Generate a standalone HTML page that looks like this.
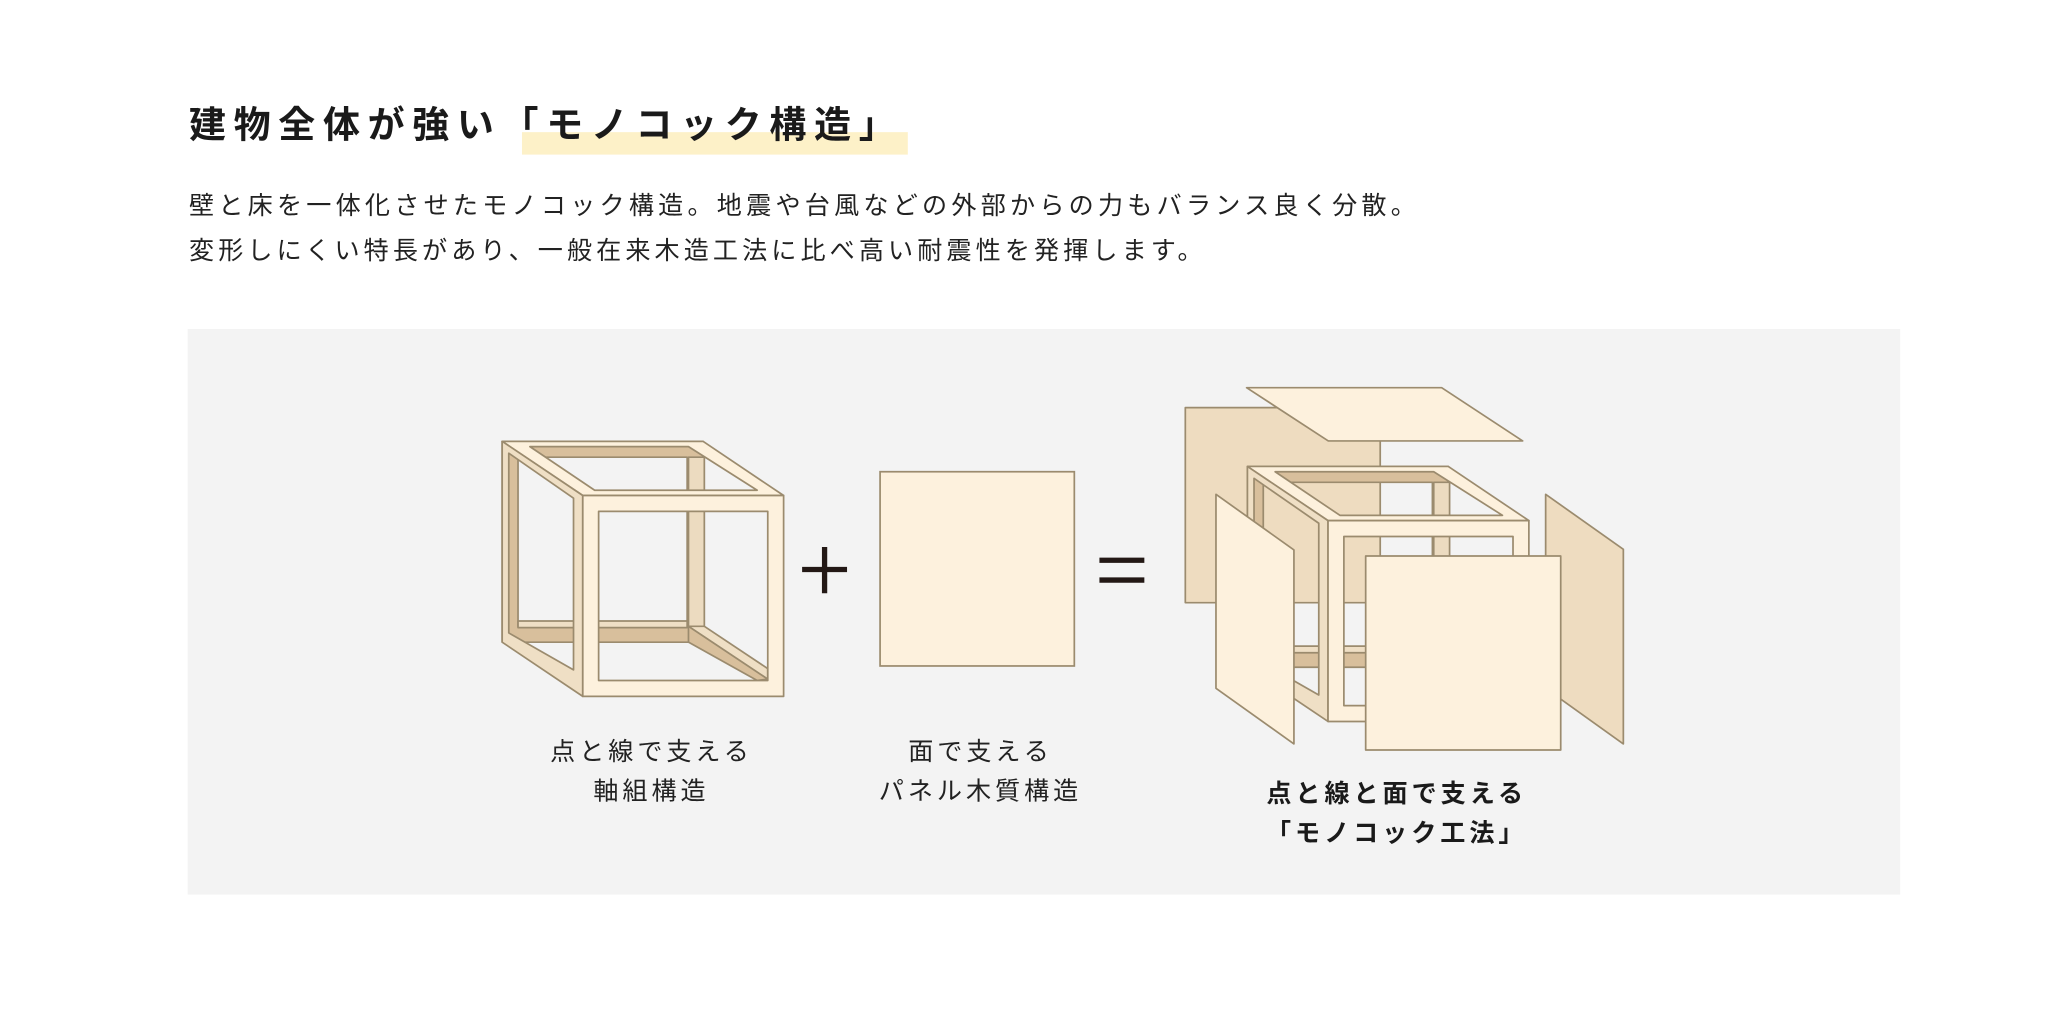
<!DOCTYPE html>
<html><head><meta charset="utf-8"><style>
html,body{margin:0;padding:0;background:#fff;}
svg{display:block;}
text{font-family:"Liberation Sans","Noto Sans CJK JP",sans-serif;}
</style></head><body>
<svg width="2072" height="1010" viewBox="0 0 1568 764.36" xmlns="http://www.w3.org/2000/svg">
<defs>
<g id="cube" stroke="#9b8b6e" stroke-width="1.3" stroke-linejoin="round">
  <!-- back frame -->
  <path fill-rule="evenodd" fill="#d8bf9c" d="M380,334H532V486H380Z M392,346H520V474H392Z"/>
  <!-- back right post inner light -->
  <rect x="521" y="346" width="12" height="128" fill="#ecdbc0"/>
  <!-- back bottom beam top -->
  <rect x="392" y="470" width="128" height="5" fill="#efdfc5"/>
  <!-- bottom right depth beam -->
  <polygon fill="#efdfc5" points="521,474 533,474 581,506 581,514"/>
  <polygon fill="#d8bf9c" points="521,474 581,514 573,515 521,486"/>
  <!-- top face -->
  <path fill-rule="evenodd" fill="#fdf1dd" d="M380,334L532,334L593,375L441,375Z M401,338L521,338L573,371L450,371Z"/>
  <!-- left face -->
  <path fill-rule="evenodd" fill="#efdfc5" d="M380,334L441,375L441,527L380,486Z M385,343L434,377L434,507L385,479Z"/>
  <!-- front frame -->
  <path fill-rule="evenodd" fill="#fdf1dd" d="M441,375H593V527H441Z M453,387H581V515H453Z"/>
</g>
</defs>
<rect width="1568" height="764.36" fill="#fff"/>
<!-- title -->
<rect x="395" y="100" width="292" height="17" fill="#fdf1c8"/>
<text x="143" y="104" font-size="28" font-weight="bold" letter-spacing="5.8" fill="#1a1a1a">建物全体が強い「モノコック構造」</text>
<text x="143" y="162" font-size="19" letter-spacing="3.2" fill="#222">壁と床を一体化させたモノコック構造。地震や台風などの外部からの力もバランス良く分散。</text>
<text x="143" y="196" font-size="19" letter-spacing="3.1" fill="#222">変形しにくい特長があり、一般在来木造工法に比べ高い耐震性を発揮します。</text>
<!-- gray panel -->
<rect x="142" y="249" width="1296" height="428" fill="#f3f3f3"/>
<!-- cube 1 -->
<use href="#cube"/>
<!-- plus -->
<g stroke="#231815" stroke-width="4">
<line x1="607" y1="431" x2="641" y2="431"/><line x1="624" y1="414" x2="624" y2="449"/>
<line x1="832" y1="424" x2="866" y2="424"/><line x1="832" y1="439" x2="866" y2="439"/>
</g>
<!-- panel -->
<rect x="666" y="357" width="147" height="147" fill="#fdf1dd" stroke="#9b8b6e" stroke-width="1.3"/>
<!-- assembly -->
<g stroke="#9b8b6e" stroke-width="1.3" stroke-linejoin="round">
<rect x="897" y="308.5" width="147.5" height="147.6" fill="#eedcc0"/>
<polygon fill="#fdf1dd" points="943.4,293.4 1091,293.4 1152.3,333.7 1005.2,333.7"/>
<polygon fill="#eedcc0" points="1169.7,374.1 1228.5,415.7 1228.5,563 1169.7,520.9"/>
</g>
<use href="#cube" transform="translate(564,19)"/>
<g stroke="#9b8b6e" stroke-width="1.3" stroke-linejoin="round">
<polygon fill="#fdf1dd" points="920.2,374.1 979.2,416.2 979.2,563 920.2,520.9"/>
<rect x="1033.5" y="420.8" width="147.6" height="146.8" fill="#fdf1dd"/>
</g>
<!-- labels -->
<g font-size="19" fill="#222" text-anchor="middle" letter-spacing="3">
<text x="493" y="575">点と線で支える</text>
<text x="493" y="605">軸組構造</text>
<text x="742" y="575">面で支える</text>
<text x="742" y="605">パネル木質構造</text>
<text x="1057" y="607" font-weight="bold" fill="#1a1a1a">点と線と面で支える</text>
<text x="1057" y="637" font-weight="bold" fill="#1a1a1a">「モノコック工法」</text>
</g>
</svg>
</body></html>
